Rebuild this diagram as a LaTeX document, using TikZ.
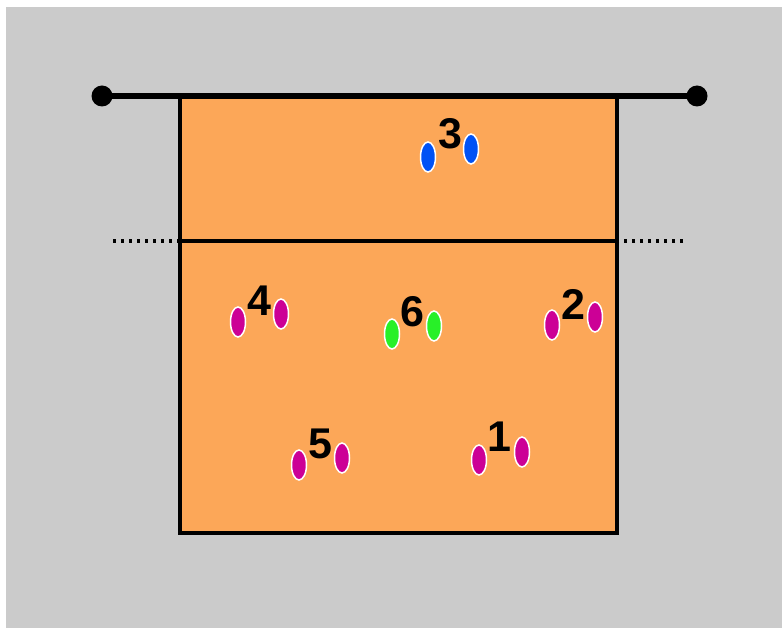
\documentclass[tikz,border=0pt]{standalone}
\usepackage{fontspec}
\setmainfont{Liberation Sans}
\definecolor{floorgrey}{RGB}{203,203,203}
\definecolor{courtorange}{RGB}{252,167,88}
\definecolor{playmag}{RGB}{204,0,150}
\definecolor{playblue}{RGB}{0,82,245}
\definecolor{playgreen}{RGB}{40,240,40}
\tikzset{
  courtline/.style={line width=3.2pt},
  player/.style={fill=#1, draw=white, line width=1.5pt},
  number/.style={font=\bfseries\fontsize{43}{43}\selectfont, inner sep=0pt}
}
\begin{document}
\begin{tikzpicture}[x=1pt,y=-1pt]
\fill[white] (0,0) rectangle (782,628);
\fill[floorgrey] (6,7) rectangle (782,628);

\fill[courtorange] (180,96) rectangle (617,533);
\draw[courtline] (180,96) rectangle (617,533);

\draw[courtline] (180,241) -- (617,241);
\draw[courtline, dash pattern=on 3pt off 5pt] (113,241) -- (180,241);
\draw[courtline, dash pattern=on 3pt off 5pt] (683,241) -- (617,241);

\draw[line width=6.5pt] (102,96) -- (697,96);
\fill (102,96) circle (10.5);
\fill (697,96) circle (10.5);

\filldraw[player=playblue] (428,157) ellipse (7.5 and 15);
\filldraw[player=playblue] (471,149) ellipse (7.5 and 15);
\node[number] (n3) at (450,134) {3};

\filldraw[player=playmag] (238,322) ellipse (7.5 and 15);
\filldraw[player=playmag] (281,314) ellipse (7.5 and 15);
\node[number] (n4) at (259,301) {4};

\filldraw[player=playgreen] (392,334) ellipse (7.5 and 15);
\filldraw[player=playgreen] (434,326) ellipse (7.5 and 15);
\node[number] (n6) at (412,312) {6};

\filldraw[player=playmag] (552,325) ellipse (7.5 and 15);
\filldraw[player=playmag] (595,317) ellipse (7.5 and 15);
\node[number] (n2) at (573,304) {2};

\filldraw[player=playmag] (299,465) ellipse (7.5 and 15);
\filldraw[player=playmag] (342,458) ellipse (7.5 and 15);
\node[number] (n5) at (320,444) {5};

\filldraw[player=playmag] (479,460) ellipse (7.5 and 15);
\filldraw[player=playmag] (522,452) ellipse (7.5 and 15);
\node[number] (n1) at (499,437) {1};
\end{tikzpicture}
\end{document}
